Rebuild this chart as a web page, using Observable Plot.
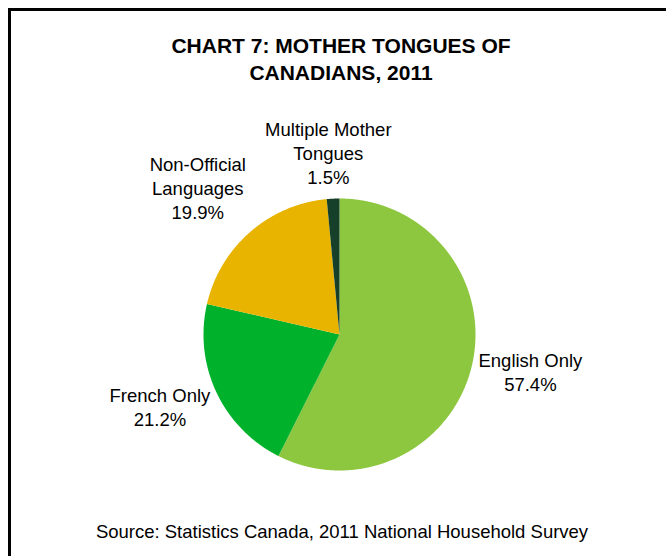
<!DOCTYPE html>
<html>
<head>
<meta charset="utf-8">
<script src="https://cdn.jsdelivr.net/npm/d3@7"></script>
<script src="https://cdn.jsdelivr.net/npm/@observablehq/plot@0.6"></script>
<style>
  html, body { margin: 0; padding: 0; background: #fff; }
  #wrap { position: relative; width: 666px; height: 556px; overflow: hidden; font-family: "Liberation Sans", Arial, sans-serif; color: #000; }
  #frame { position: absolute; left: 8px; top: 8px; width: 700px; height: 600px; border-left: 3px solid #000; border-top: 3px solid #000; }
  #title { position: absolute; left: 0; width: 682px; top: 32px; text-align: center; font-weight: bold; font-size: 21px; line-height: 27px; }
  #chart { position: absolute; left: 0; top: 90px; }
  #source { position: absolute; left: 0; top: 520px; width: 684px; text-align: center; font-size: 18.5px; line-height: 24px; white-space: nowrap; }
</style>
</head>
<body>
<div id="wrap">
  <div id="frame"></div>
  <div id="title">CHART 7: MOTHER TONGUES OF<br>CANADIANS, 2011</div>
  <div id="chart"></div>
  <div id="source">Source: Statistics Canada, 2011 National Household Survey</div>
</div>
<script>
// ---- data ----
const categories = ["English Only", "French Only", "Non-Official Languages", "Multiple Mother Tongues"];
const shares = [57.4, 21.2, 19.9, 1.5];
const labelText = ["English Only", "French Only", "Non-Official\nLanguages", "Multiple Mother\nTongues"];
const sliceColors = ["#8dc63f", "#00b22b", "#e8b400", "#17402a"];

// ---- geometry from data ----
const cx = 339, cy = 244, r = 136;
const fontSize = 18.5, lineH = 24;
const total = d3.sum(shares);
const arcs = d3.pie().sort(null).value(d => d)(shares); // clockwise from 12 o'clock
const polyPoints = [];
arcs.forEach((a, i) => {
  polyPoints.push({cat: categories[i], x: 0, y: 0});
  const n = Math.max(4, Math.ceil((a.endAngle - a.startAngle) / 0.005));
  for (let k = 0; k <= n; k++) {
    const t = a.startAngle + (a.endAngle - a.startAngle) * k / n;
    polyPoints.push({cat: categories[i], x: Math.sin(t), y: -Math.cos(t)});
  }
  polyPoints.push({cat: categories[i], x: 0, y: 0});
});

// label boxes placed just outside the pie, pushed away along the slice's mid-angle
const ctx = document.createElement("canvas").getContext("2d");
ctx.font = `${fontSize}px "Liberation Sans", Arial, sans-serif`;
const clamp = v => Math.max(-1, Math.min(1, v));
const labels = arcs.map((a, i) => {
  const t = (a.startAngle + a.endAngle) / 2;
  const s = Math.sin(t), c = -Math.cos(t);
  const text = labelText[i] + "\n" + d3.format(".1f")(shares[i] / total * 100) + "%";
  const lines = text.split("\n");
  const hw = d3.max(lines, l => ctx.measureText(l).width) / 2;
  const hh = lines.length * lineH / 2;
  const R = 1.05 * r;
  const px = s * R + hw * clamp(1.5 * s);
  const py = c * R + hh * clamp(1.5 * c);
  return {cat: categories[i], x: px / r, y: py / r, text};
});

const plot = Plot.plot({
  width: 666,
  height: 420,
  margin: 0,
  x: {domain: [-1, 1], range: [cx - r, cx + r], axis: null},
  y: {domain: [-1, 1], range: [cy - r, cy + r], axis: null},
  color: {domain: categories, range: sliceColors},
  style: {fontFamily: "'Liberation Sans', Arial, sans-serif", background: "transparent"},
  marks: [
    Plot.line(polyPoints, {x: "x", y: "y", z: "cat", fill: "cat", stroke: "none", curve: "linear"}),
    Plot.text(labels, {x: "x", y: "y", text: "text", fontSize, lineHeight: lineH / fontSize, textAnchor: "middle", lineAnchor: "middle", dy: -4, fill: "#000"})
  ]
});
document.getElementById("chart").appendChild(plot);
</script>
</body>
</html>
